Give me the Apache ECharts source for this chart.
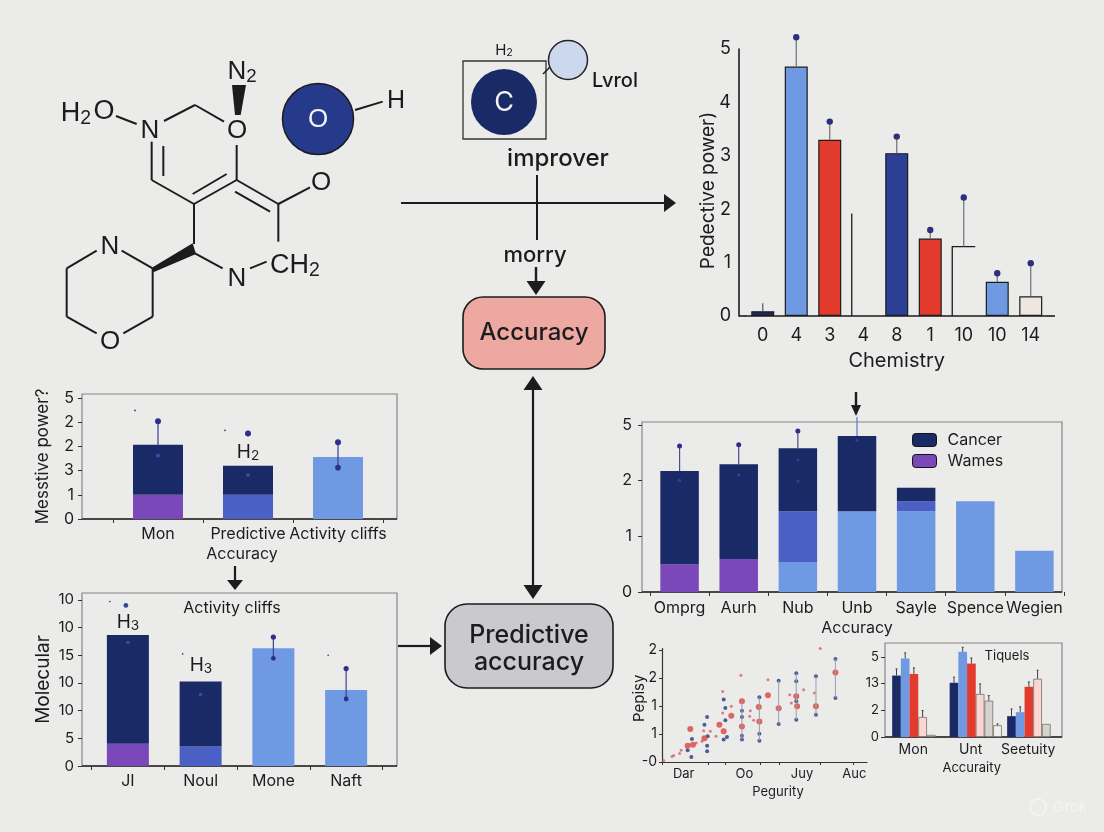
<!DOCTYPE html>
<html><head><meta charset="utf-8">
<style>html,body{margin:0;padding:0;background:#ebebe9}#c{width:1104px;height:832px}</style>
<script src="https://cdn.jsdelivr.net/npm/echarts@6/dist/echarts.min.js"></script>
</head><body><div id="c"></div>
<script>
const FONT='Inter, Roboto, "Noto Sans", sans-serif', MOL='"Liberation Sans", Arial, sans-serif';
const INK='#1c1c1e', NAVY='#1a2a66', NAVY2='#2b3f95', LIGHT='#6f9ae3', MED='#4a60c4', PURPLE='#7a48b8', RED='#e23b2e', PINK='#fbd6d0', GREY='#d6d2ce', PALE='#f1efec';

// Chart 1: top right
const c1Cats=['0','4','3','4','8','1','10','10','14'];
const c1Vals=[0.09,4.67,3.3,1.92,3.05,1.45,1.3,0.64,0.37];
const c1Tips=[0.24,5.22,3.64,null,3.36,1.61,2.22,0.8,0.99];
// Chart 2: middle left
const c2Cats=['Mon','Predictive','Activity cliffs'];
const c2TickLabels=['0','1','3','2','2','5'];
const c2Purple=[1,0,0], c2Med=[0,1,0], c2Light=[0,0,2.56], c2Navy=[2.07,1.2,0];
const c2Stems=[[0,3.07,4.04]], c2StemsBoth=[[2,2.12,3.17]];
const c2Solo=[[1,3.53]], c2Faint=[[0,2.62],[1,1.82]], c2Specks=[[0,4.48],[1,3.66]];
// Chart 3: bottom left
const c3Cats=['JI','Noul','Mone','Naft'];
const c3TickLabels=['0','5','10','10','15','10','10'];
const c3Purple=[0.8,0,0,0], c3Med=[0,0.7,0,0], c3Light=[0,0,4.25,2.75], c3Navy=[3.93,2.35,0,0];
const c3Stems=[[2,3.89,4.66],[3,2.42,3.52]];
const c3Solo=[[0,5.8]], c3Faint=[[0,4.46],[1,2.58]], c3Specks=[[0,5.94],[1,4.05],[3,4.0]];
// Chart 4: middle right
const c4Cats=['Omprg','Aurh','Nub','Unb','Sayle','Spence','Wegien'];
const c4TickLabels=['0','1','2','5'];
const c4Purple=[0.5,0.59,0,0,0,0,0], c4Light=[0,0,0.54,1.45,1.45,1.63,0.74], c4Med=[0,0,0.91,0,0.18,0,0], c4Navy=[1.67,1.7,1.13,1.35,0.24,0,0];
const c4Stems=[[0,2.17,2.62],[1,2.29,2.64],[2,2.58,2.89]];
const c4Arrowed=[[3,2.8,3.14]];
const c4Faint=[[0,2.0],[1,2.1],[2,2.37],[2,1.99],[3,2.72]];
// Chart 5: scatter
const c5XLabels=['Dar','Oo','Juy','Auc'], c5XAt=[10.6,40.2,68.3,93.8], c5XTicks=[0,22.8,30.9,48,57.2,77.2,93.2];
const c5YLabels=['-0','1','1','2','2'];
const c5Red=[[13.8,1.18],[12.5,.58],[15.1,.62],[20.7,.85],[28,1.33],[30.1,1.1],[33.8,1.65],[39,2.17],[39,1.27],[47.2,1.96],[47.5,1.45],[56.9,1.92],[65.5,2.35],[65.9,1.99],[75.1,1.99],[84.6,3.2],[51.7,2.38]];
const c5Blue=[[56.9,2.9],[56.9,1.36],[65.5,3.17],[65.5,2.88],[65.5,2.17],[65.5,1.51],[75.1,3.06],[75.1,1.69],[84.6,3.68],[84.6,2.29],[47.5,2.31],[47.5,1.01],[47.5,.76],[39,1.83],[39,1.61],[39,.94],[39,.8],[30.1,2.23],[30.9,1.93],[30.9,1.49],[30.1,.8],[31.7,.89],[22,1.61],[20.7,1.33],[22.3,.92],[22,.58],[22,.38],[14.6,.82],[12.5,.42],[14.3,.18]];
const c5Specks=[[77.2,4.05],[38.5,3.1],[29.6,2.52],[33.8,1.99],[43.1,1.83],[42.8,1.63],[44.7,1.49],[51.7,2.94],[62.3,2.4],[69.1,2.58],[74.3,2.46],[63.1,2.11],[26.3,.92],[23.6,1.1],[20.3,1.12],[9.3,.42],[8.6,.3],[4.9,.2],[5.7,.23],[.8,.05],[16.7,.68],[19.5,.74],[29.6,1.75]];
const c5Stems=[[56.9,1.36,2.9],[84.6,2.29,3.68],[75.1,1.69,3.06],[65.5,1.51,3.17],[47.5,.76,2.31],[39,.8,2.17]];
// Chart 6: grouped
const c6Cats=['Mon','Unt','Seetuity'];
const c6TickLabels=['0','2','13','5'];
const c6Navy=[2.3,2.03,.78], c6Blue=[2.94,3.19,.93], c6Red=[2.36,2.75,1.88], c6Pink=[.75,1.61,2.18], c6Grey=[.08,1.36,.49], c6Pale=[null,.44,null];
const c6NavyTip=[2.55,2.24,1.05], c6BlueTip=[3.15,3.36,1.13], c6RedTip=[2.59,2.96,2.06], c6PinkTip=[.99,1.99,2.5], c6GreyTip=[null,1.55,null], c6PaleTip=[null,.49,null];

// ---- marks built through the axes ----
function stemRender(o){ // item: [x, low, high]
  return function(p,api){
    const dx=o.dx||0, a=api.coord([api.value(0),api.value(1)]), b=api.coord([api.value(0),api.value(2)]);
    const kids=[{type:'line',shape:{x1:a[0]+dx,y1:a[1],x2:b[0]+dx,y2:b[1]},style:{stroke:o.stem||'#555c78',lineWidth:o.w||1.2}}];
    if(o.cap) kids.push({type:'line',shape:{x1:b[0]+dx-o.cap,y1:b[1],x2:b[0]+dx+o.cap,y2:b[1]},style:{stroke:o.stem||'#555',lineWidth:1}});
    if(o.r) kids.push({type:'circle',shape:{cx:b[0]+dx,cy:b[1],r:o.r},style:{fill:o.dot||'#2c2f8c'}});
    if(o.rLow) kids.push({type:'circle',shape:{cx:a[0]+dx,cy:a[1],r:o.rLow},style:{fill:o.dot||'#2c2f8c'}});
    return {type:'group',children:kids};
  };
}
function dotRender(o){ // item: [x, y]
  return function(p,api){
    const a=api.coord([api.value(0),api.value(1)]);
    return {type:'circle',shape:{cx:a[0]+(o.dx||0),cy:a[1],r:o.r},style:{fill:o.fill}};
  };
}
const stems=(i,data,o)=>({type:'custom',name:'stem'+i,xAxisIndex:i,yAxisIndex:i,data,z:5,clip:false,renderItem:stemRender(o),encode:{x:0,y:[1,2]},silent:true});
const dots=(i,data,o)=>({type:'custom',name:'dot'+i,xAxisIndex:i,yAxisIndex:i,data,z:6,clip:false,renderItem:dotRender(o),encode:{x:0,y:1},silent:true});
const stack=(i,name,data,color,w)=>({type:'bar',name,xAxisIndex:i,yAxisIndex:i,stack:'s'+i,data,barWidth:w,itemStyle:{color},silent:true});

// ---- axes ----
function catX(i,cats,o){return Object.assign({type:'category',gridIndex:i,data:cats,
  axisLine:{show:false},axisTick:{show:true,length:4,lineStyle:{color:'#333'}},
  axisLabel:Object.assign({interval:0,color:INK,fontFamily:FONT,fontSize:16,margin:8},o.label||{}),
  name:o.name,nameLocation:'middle',nameGap:o.gap,nameMoveOverlap:false,nameTextStyle:Object.assign({color:INK,fontFamily:FONT,fontSize:16},o.nameStyle||{})},o.extra||{});}
function idxY(i,labels,o){const vals=labels.map((_,k)=>k);return {type:'value',gridIndex:i,min:0,max:o.max,offset:o.offset||0,splitLine:{show:false},
  axisLine:{show:false},axisTick:{show:true,length:4,customValues:vals,lineStyle:{color:'#333'}},
  axisLabel:{customValues:vals,formatter:v=>labels[Math.round(v)],color:INK,fontFamily:FONT,fontSize:o.size||16,margin:o.margin||7,padding:[4,0,0,0]},
  name:o.name,nameLocation:'middle',nameGap:o.gap,nameMoveOverlap:false,nameTextStyle:{color:INK,fontFamily:FONT,fontSize:o.nameSize||17}};}

const grid=[
 {left:746,top:49,width:301.5,height:267},
 {left:113,top:394,width:270,height:125},
 {left:91.5,top:593,width:291,height:173},
 {left:650,top:422,width:414,height:170},
 {left:662,top:648.6,width:205,height:113.4},
 {left:889.5,top:643,width:172.5,height:94}
];
const xAxis=[
 {type:'category',gridIndex:0,data:c1Cats,axisLine:{lineStyle:{color:INK,width:1.6}},axisTick:{show:false},
  axisLabel:{interval:0,color:INK,fontFamily:FONT,fontSize:18,margin:11},
  name:'Chemistry',nameLocation:'middle',nameGap:35,nameMoveOverlap:false,nameTextStyle:{color:INK,fontFamily:FONT,fontSize:20}},
 catX(1,c2Cats,{name:'Accuracy',gap:27,nameStyle:{padding:[0,12,0,0]},label:{margin:7}}),
 catX(2,c3Cats,{label:{margin:7}}),
 catX(3,c4Cats,{name:'Accuracy',gap:28,label:{margin:8}}),
 {type:'value',gridIndex:4,min:0,max:100,splitLine:{show:false},axisLine:{lineStyle:{color:'#333',width:1.2}},
  axisTick:{length:3,customValues:c5XTicks,lineStyle:{color:'#333'}},
  axisLabel:{customValues:c5XAt,formatter:v=>c5XLabels[c5XAt.indexOf(v)],color:INK,fontFamily:FONT,fontSize:13,margin:6},
  name:'Pegurity',nameLocation:'middle',nameGap:24,nameMoveOverlap:false,nameTextStyle:{color:INK,fontFamily:FONT,fontSize:13,padding:[0,0,0,27]}},
 catX(5,c6Cats,{name:'Accuraity',gap:25,nameStyle:{fontSize:13,padding:[0,8,0,0]},label:{fontSize:14,margin:6,padding:[0,10,0,0]},extra:{axisTick:{show:false}}})
];
const yAxis=[
 {type:'value',gridIndex:0,min:0,max:5,interval:1,offset:7,splitLine:{show:false},axisLine:{show:true,lineStyle:{color:INK,width:1.6}},axisTick:{show:false},
  axisLabel:{color:INK,fontFamily:FONT,fontSize:18,margin:8,padding:[6,0,0,0]},
  name:'Pedective power)',nameLocation:'middle',nameGap:21.5,nameMoveOverlap:false,nameTextStyle:{color:INK,fontFamily:FONT,fontSize:19,padding:[0,16,0,0]}},
 idxY(1,c2TickLabels,{max:5.16,offset:31,name:'Messtive power?',gap:30.5,margin:8,size:16}),
 idxY(2,c3TickLabels,{max:6.25,offset:9.5,name:'Molecular',gap:29.5,margin:8,size:15,nameSize:19}),
 idxY(3,c4TickLabels,{max:3.05,offset:8,margin:10,size:16}),
 {type:'value',gridIndex:4,min:0,max:4.05,splitLine:{show:false},axisLine:{show:true,lineStyle:{color:'#333',width:1.2}},
  axisTick:{length:3,customValues:[0,1,2,3,4],lineStyle:{color:'#333'}},
  axisLabel:{customValues:[0,1,2,3,4],formatter:v=>c5YLabels[Math.round(v)],color:INK,fontFamily:FONT,fontSize:14,margin:5},
  name:'Pepisy',nameLocation:'middle',nameGap:15,nameMoveOverlap:false,nameTextStyle:{color:INK,fontFamily:FONT,fontSize:15,padding:[0,0,0,14]}},
 idxY(5,c6TickLabels,{max:3.52,offset:4.5,margin:6,size:13})
];

// ---- series ----
const c1Fill=[NAVY,LIGHT,RED,'transparent',NAVY2,RED,'transparent',LIGHT,'#efe6e2'];
const c1Line=[INK,INK,INK,'transparent',INK,INK,'transparent',INK,INK];
const series=[
 {type:'bar',name:'Chemistry bars',xAxisIndex:0,yAxisIndex:0,barWidth:23,silent:true,
  data:c1Vals.map((v,k)=>({value:v,itemStyle:{color:c1Fill[k],borderColor:c1Line[k],borderWidth:1.2}}))},
 // bars 4 and 7 are only open outlines in the picture
 {type:'custom',name:'Open outlines',xAxisIndex:0,yAxisIndex:0,z:4,clip:false,silent:true,encode:{x:0,y:1},
  data:[[3,c1Vals[3],0],[6,c1Vals[6],1]],
  renderItem(p,api){const t=api.coord([api.value(0),api.value(1)]),b=api.coord([api.value(0),0]),w=api.value(2)?23:0;
    const pts=[[t[0]-11.5,b[1]],[t[0]-11.5,t[1]]]; if(w)pts.push([t[0]+11.5,t[1]]);
    return {type:'polyline',shape:{points:pts},style:{stroke:INK,lineWidth:1.3,fill:'none'}};}},
 stems(0,c1Vals.map((v,k)=>c1Tips[k]===null||k===0?null:[k,v,c1Tips[k]]).filter(Boolean),{stem:'#6f6f74',w:1.2,r:3.2,dot:'#2c2f7c'}),
 stems(0,[[0,c1Vals[0],c1Tips[0]]],{stem:'#55556a',w:1.2}),

 stack(1,'c2 Purple',c2Purple,PURPLE,50),stack(1,'c2 Med',c2Med,MED,50),stack(1,'c2 Light',c2Light,LIGHT,50),stack(1,'c2 Navy',c2Navy,NAVY,50),
 stems(1,c2Stems,{stem:'#3a3f94',r:3}),stems(1,c2StemsBoth,{stem:'#3a3f94',r:3,rLow:2.8}),
 dots(1,c2Solo,{r:3,fill:'#2c2f8c'}),dots(1,c2Faint,{r:2,fill:'#3d4aa4'}),dots(1,c2Specks,{r:0.9,dx:-23,fill:'#2c2f8c'}),

 stack(2,'c3 Purple',c3Purple,PURPLE,42),stack(2,'c3 Med',c3Med,MED,42),stack(2,'c3 Light',c3Light,LIGHT,42),stack(2,'c3 Navy',c3Navy,NAVY,42),
 stems(2,c3Stems,{stem:'#3a3f94',r:2.6,rLow:2.4}),
 dots(2,c3Solo,{r:2.4,dx:-2,fill:'#3a44a0'}),dots(2,c3Faint,{r:1.8,fill:'#3d4aa4'}),dots(2,c3Specks,{r:0.8,dx:-18,fill:'#2c2f8c'}),

 stack(3,'Wames',c4Purple,PURPLE,38.5),stack(3,'c4 Light',c4Light,LIGHT,38.5),stack(3,'c4 Med',c4Med,MED,38.5),stack(3,'Cancer',c4Navy,NAVY,38.5),
 stems(3,c4Stems,{stem:'#4a4f8a',r:2.5}),stems(3,c4Arrowed,{stem:'#5a78c8'}),dots(3,c4Faint,{r:1.7,fill:'#2f3e9c'}),

 stems(4,c5Stems,{stem:'#9a9eae',w:1}),
 {type:'scatter',name:'Scatter specks',xAxisIndex:4,yAxisIndex:4,data:c5Specks,symbolSize:3,itemStyle:{color:'#d8606c'},silent:true},
 {type:'scatter',name:'Scatter blue',xAxisIndex:4,yAxisIndex:4,data:c5Blue,symbolSize:4,itemStyle:{color:'#24387f'},silent:true},
 {type:'scatter',name:'Scatter red',xAxisIndex:4,yAxisIndex:4,data:c5Red,symbolSize:6,itemStyle:{color:'#dc443f'},silent:true}
];
const BW=8.7;
[['Navy',c6Navy,NAVY,c6NavyTip],['Blue',c6Blue,LIGHT,c6BlueTip],['Red',c6Red,RED,c6RedTip],['Pink',c6Pink,PINK,c6PinkTip],['Grey',c6Grey,GREY,c6GreyTip],['Pale',c6Pale,PALE,c6PaleTip]].forEach(([n,vals,col,tips],k)=>{
  series.push({type:'bar',name:'c6 '+n,xAxisIndex:5,yAxisIndex:5,data:vals,barWidth:BW,barGap:'0%',silent:true,
    itemStyle:{color:col,borderColor:k>2?'#77726e':col,borderWidth:k>2?0.8:0}});
  series.push(stems(5,vals.map((v,c)=>tips[c]==null?null:[c,v,tips[c]]).filter(Boolean),{stem:'#444',w:1,dx:(k-2.5)*BW,cap:1}));
});

// ---- diagram ----
const Z=(a,b)=>[40+a/3,40+b/3];
const bonds=[[228,228,290,252],[372,243,465,195],[465,195,552,245],[335,305,335,420],[370,318,370,408],[335,420,462,492],[462,492,590,420],[458,462,560,402],[590,315,590,420],[590,420,715,492],[585,455,690,515],[715,492,810,442],[715,492,715,605],[462,492,462,612],[465,640,548,685],[630,685,680,665],[245,632,338,685],[338,685,338,830],[338,830,250,880],[170,880,80,830],[80,830,80,685],[80,685,170,632],[945,210,1028,185]];
const g=[];
const L=(x1,y1,x2,y2,w,c)=>g.push({type:'line',shape:{x1,y1,x2,y2},style:{stroke:c||INK,lineWidth:w||2}});
const P=(pts,c)=>g.push({type:'polygon',shape:{points:pts},style:{fill:c||INK}});
function T(x,y,text,size,o){o=o||{};g.push({type:'text',x,y,style:{text,fontSize:size,fontFamily:o.font||FONT,fontWeight:o.weight||400,fill:o.fill||INK,align:o.align||'center',verticalAlign:'middle',rich:o.rich}});}
function sub(x,y,base,s,size,o){o=o||{};const rich={a:{fontSize:size,fontFamily:o.font||FONT,fill:INK},b:{fontSize:size*0.72,fontFamily:o.font||FONT,fill:INK,padding:[size*0.38,0,0,0],verticalAlign:'bottom'}};T(x,y,'{a|'+base+'}{b|'+s+'}',size,{rich,font:o.font});}
function frame(x,y,w,h){g.push({type:'rect',z:-1,shape:{x,y,width:w,height:h},style:{fill:'none',stroke:'#85858a',lineWidth:1.2}});L(x,y+h,x+w,y+h,1.5,'#222');}
const arrowH=(x1,x2,y,tip)=>{L(x1,y,x2,y,2.2);P([[x2,y-9],[tip,y],[x2,y+9]]);};

// molecule
bonds.forEach(b=>{const p=Z(b[0],b[1]),q=Z(b[2],b[3]);L(p[0],p[1],q[0],q[1],2);});
P([Z(576,135),Z(618,135),Z(602,225),Z(585,225)]);
P([Z(338,682),Z(458,610),Z(468,642),Z(340,697)]);
sub(76,114,'H','2',27,{font:MOL});
T(104,112,'O',27,{font:MOL});
T(150,131,'N',26,{font:MOL});T(237,131,'O',26,{font:MOL});T(321,183,'O',26,{font:MOL});
T(110,247,'N',26,{font:MOL});T(237,279,'N',26,{font:MOL});T(110,342,'O',26,{font:MOL});
sub(242,72,'N','2',26,{font:MOL});sub(295,266,'CH','2',27,{font:MOL});
g.push({type:'circle',shape:{cx:318,cy:119,r:35.5},style:{fill:'#263a8c',stroke:INK,lineWidth:1.5}});
T(318,120,'O',26,{font:MOL,fill:'#f2f2f2'});T(396,101,'H',25,{font:MOL});

// C box
g.push({type:'rect',shape:{x:463,y:61,width:83,height:78},style:{fill:'none',stroke:'#333',lineWidth:1.3}});
g.push({type:'circle',shape:{cx:504,cy:102,r:33},style:{fill:NAVY}});
T(504,103,'C',27,{fill:'#f4f4f4'});
L(543,74,550,67,1.5);
g.push({type:'circle',shape:{cx:568,cy:60,r:19.5},style:{fill:'#ccd8ee',stroke:'#222',lineWidth:1.5}});
sub(504,50,'H','2',15);
T(615,81,'Lvrol',20,{weight:500});
T(558,159,'improver',24,{weight:500});
L(537,175,537,240,2);
arrowH(401,664,203,676);
T(535,255,'morry',22,{weight:500});
L(536,267,536,282,2.4);P([[526.5,281],[545.5,281],[536,295]]);

// boxes
g.push({type:'rect',shape:{x:463,y:297,width:142,height:72,r:20},style:{fill:'#eea8a2',stroke:INK,lineWidth:1.6}});
T(534,333,'Accuracy',24,{weight:500});
L(533,388,533,587,2.2);P([[533,376],[523.5,390],[542.5,390]]);P([[533,599],[523.5,585],[542.5,585]]);
g.push({type:'rect',shape:{x:445,y:604,width:168,height:84,r:22},style:{fill:'#c9c9ce',stroke:INK,lineWidth:1.6}});
T(529,635,'Predictive',25,{weight:500});T(529,662,'accuracy',25,{weight:500});
arrowH(398,430,646,442);

// chart furniture
L(739,316,746,316,1.6);L(1047.5,316,1055,316,1.6);
frame(82,394,315,125);frame(82,593,315,173);frame(642,422,420,170);frame(885,643,177,94);
sub(248,452,'H','2',19);sub(128,622,'H','3',19);sub(201,665,'H','3',19);
T(232,608,'Activity cliffs',16);
L(235,566,235,581,2.2);P([[227,580],[243,580],[235,590]]);
L(856,392,856,407,2.4);P([[851,405],[861,405],[856,416]]);
T(1007,656,'Tiquels',13);
// faint mark
g.push({type:'circle',shape:{cx:1038,cy:807,r:8},style:{fill:'none',stroke:'#f3f3f1',lineWidth:2}});
T(1070,807,'Grok',15,{fill:'#f3f3f1'});

const chart=echarts.init(document.getElementById('c'),null,{renderer:'canvas'});
chart.setOption({animation:false,backgroundColor:'#ebebe9',textStyle:{fontFamily:FONT},grid,xAxis,yAxis,series,
 legend:{show:true,orient:'vertical',left:912,top:432,padding:0,itemWidth:24,itemHeight:13,itemGap:5,selectedMode:false,data:['Cancer','Wames'],icon:'roundRect',
  itemStyle:{borderColor:'#141414',borderWidth:1},textStyle:{color:INK,fontFamily:FONT,fontSize:16,padding:[0,0,0,6]}},
 graphic:{elements:g}});
</script></body></html>
